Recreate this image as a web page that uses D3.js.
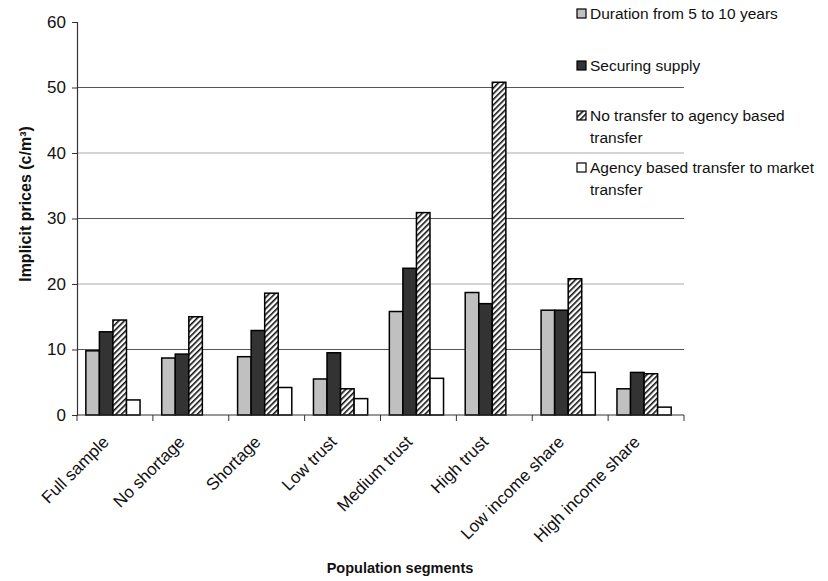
<!DOCTYPE html>
<html>
<head>
<meta charset="utf-8">
<script src="https://cdn.jsdelivr.net/npm/d3@7"></script>
<style>
  body { margin: 0; background: #fff; overflow: hidden; }
  svg { display: block; }
  text { font-family: "Liberation Sans", Arial, sans-serif; fill: #111; }
</style>
</head>
<body>
<div id="chart"></div>
<script>
const categories = ['Full sample', 'No shortage', 'Shortage', 'Low trust', 'Medium trust',
  'High trust', 'Low income share', 'High income share'];
const seriesNames = ['Duration from 5 to 10 years', 'Securing supply',
  'No transfer to agency based transfer', 'Agency based transfer to market transfer'];
const duration = [9.8, 8.7, 8.9, 5.5, 15.8, 18.7, 16.0, 4.0];
const securing = [12.7, 9.3, 12.9, 9.5, 22.4, 17.0, 16.0, 6.5];
const noTransfer = [14.5, 15.0, 18.6, 4.0, 30.9, 50.8, 20.8, 6.3];
const agencyMarket = [2.3, 0, 4.2, 2.5, 5.6, 0, 6.5, 1.2];
const yTicks = [0, 10, 20, 30, 40, 50, 60];

const series = [duration, securing, noTransfer, agencyMarket];
const fills = ['#c0c0c0', '#333333', 'url(#hatch)', '#ffffff'];
const legendLines = [['Duration from 5 to 10 years'], ['Securing supply'],
  ['No transfer to agency based', 'transfer'], ['Agency based transfer to market', 'transfer']];

const width = 828, height = 581;
const margin = { left: 77, right: 144, top: 22, bottom: 166 };
const innerWidth = width - margin.left - margin.right;
const innerHeight = height - margin.top - margin.bottom;

const svg = d3.select('#chart').append('svg')
    .attr('width', width)
    .attr('height', height);

const defs = svg.append('defs');
const pat = defs.append('pattern')
    .attr('id', 'hatch')
    .attr('patternUnits', 'userSpaceOnUse')
    .attr('width', 4)
    .attr('height', 4)
    .attr('patternTransform', 'rotate(45)');
pat.append('rect').attr('width', 4).attr('height', 4).attr('fill', '#fff');
pat.append('rect').attr('width', 1.6).attr('height', 4).attr('fill', '#111');

const g = svg.append('g')
    .attr('transform', `translate(${margin.left},${margin.top})`);

const xScale = d3.scaleBand()
    .domain(categories)
    .range([0, innerWidth]);

const xInner = d3.scaleBand()
    .domain(d3.range(series.length))
    .range([-2, xScale.bandwidth() - 2])
    .paddingOuter(0.8);

const yScale = d3.scaleLinear()
    .domain([0, 60])
    .range([innerHeight, 0]);

// gridlines
g.selectAll('.grid').data(yTicks.filter(t => t > 0 && t < 60))
  .enter().append('line')
    .attr('x1', 0)
    .attr('x2', innerWidth)
    .attr('y1', d => yScale(d))
    .attr('y2', d => yScale(d))
    .attr('stroke', (d, i) => i % 2 === 0 ? '#555' : '#aaa')
    .attr('stroke-width', 1);

// bars
const groups = g.selectAll('.grp').data(categories)
  .enter().append('g')
    .attr('transform', d => `translate(${xScale(d)},0)`);

groups.selectAll('rect')
  .data((c, ci) => series.map((s, si) => ({ si, v: s[ci] })).filter(d => d.v > 0))
  .enter().append('rect')
    .attr('x', d => xInner(d.si))
    .attr('width', xInner.bandwidth())
    .attr('y', d => yScale(d.v))
    .attr('height', d => innerHeight - yScale(d.v))
    .attr('fill', d => fills[d.si])
    .attr('stroke', '#000')
    .attr('stroke-width', 1.5);

// axes
const yAxis = d3.axisLeft(yScale)
    .tickValues(yTicks)
    .tickSize(5)
    .tickPadding(6)
    .tickFormat(d3.format('d'));
const yAxisG = g.append('g').call(yAxis);
yAxisG.select('.domain').attr('stroke', '#333').attr('stroke-width', 1.2);
yAxisG.selectAll('.tick line').attr('stroke', '#333');
yAxisG.selectAll('.tick text').attr('font-size', 17).attr('fill', '#111');

const xAxisG = g.append('g').attr('transform', `translate(0,${innerHeight})`);
xAxisG.append('line')
    .attr('x1', 0).attr('x2', innerWidth)
    .attr('stroke', '#333').attr('stroke-width', 1.2);
xAxisG.selectAll('.xt').data(d3.range(categories.length + 1))
  .enter().append('line')
    .attr('x1', i => i * xScale.step())
    .attr('x2', i => i * xScale.step())
    .attr('y1', 0).attr('y2', 6)
    .attr('stroke', '#333');
xAxisG.selectAll('.xl').data(categories)
  .enter().append('text')
    .attr('transform', d => `translate(${xScale(d) + xScale.bandwidth() / 2 - 5},${28}) rotate(-45)`)
    .attr('text-anchor', 'end')
    .attr('font-size', 17)
    .text(d => d);

// axis titles
svg.append('text')
    .attr('transform', `translate(31,${204}) rotate(-90)`)
    .attr('text-anchor', 'middle')
    .attr('font-size', 16)
    .attr('font-weight', 'bold')
    .text('Implicit prices (c/m³)');

svg.append('text')
    .attr('x', 400)
    .attr('y', 573)
    .attr('text-anchor', 'middle')
    .attr('font-size', 14.5)
    .attr('font-weight', 'bold')
    .text('Population segments');

// legend
const legendY = [14, 66, 116, 168];
const legend = svg.selectAll('.leg').data(seriesNames)
  .enter().append('g')
    .attr('transform', (d, i) => `translate(577,${legendY[i]})`);
legend.append('rect')
    .attr('x', 0).attr('y', -5)
    .attr('width', 9).attr('height', 9)
    .attr('fill', (d, i) => fills[i])
    .attr('stroke', '#000')
    .attr('stroke-width', 1.2);
legend.append('text')
    .attr('font-size', 15.5)
    .selectAll('tspan').data((d, i) => legendLines[i])
  .enter().append('tspan')
    .attr('x', 13)
    .attr('dy', (d, i) => i === 0 ? 5 : 22)
    .text(d => d);
</script>
</body>
</html>
